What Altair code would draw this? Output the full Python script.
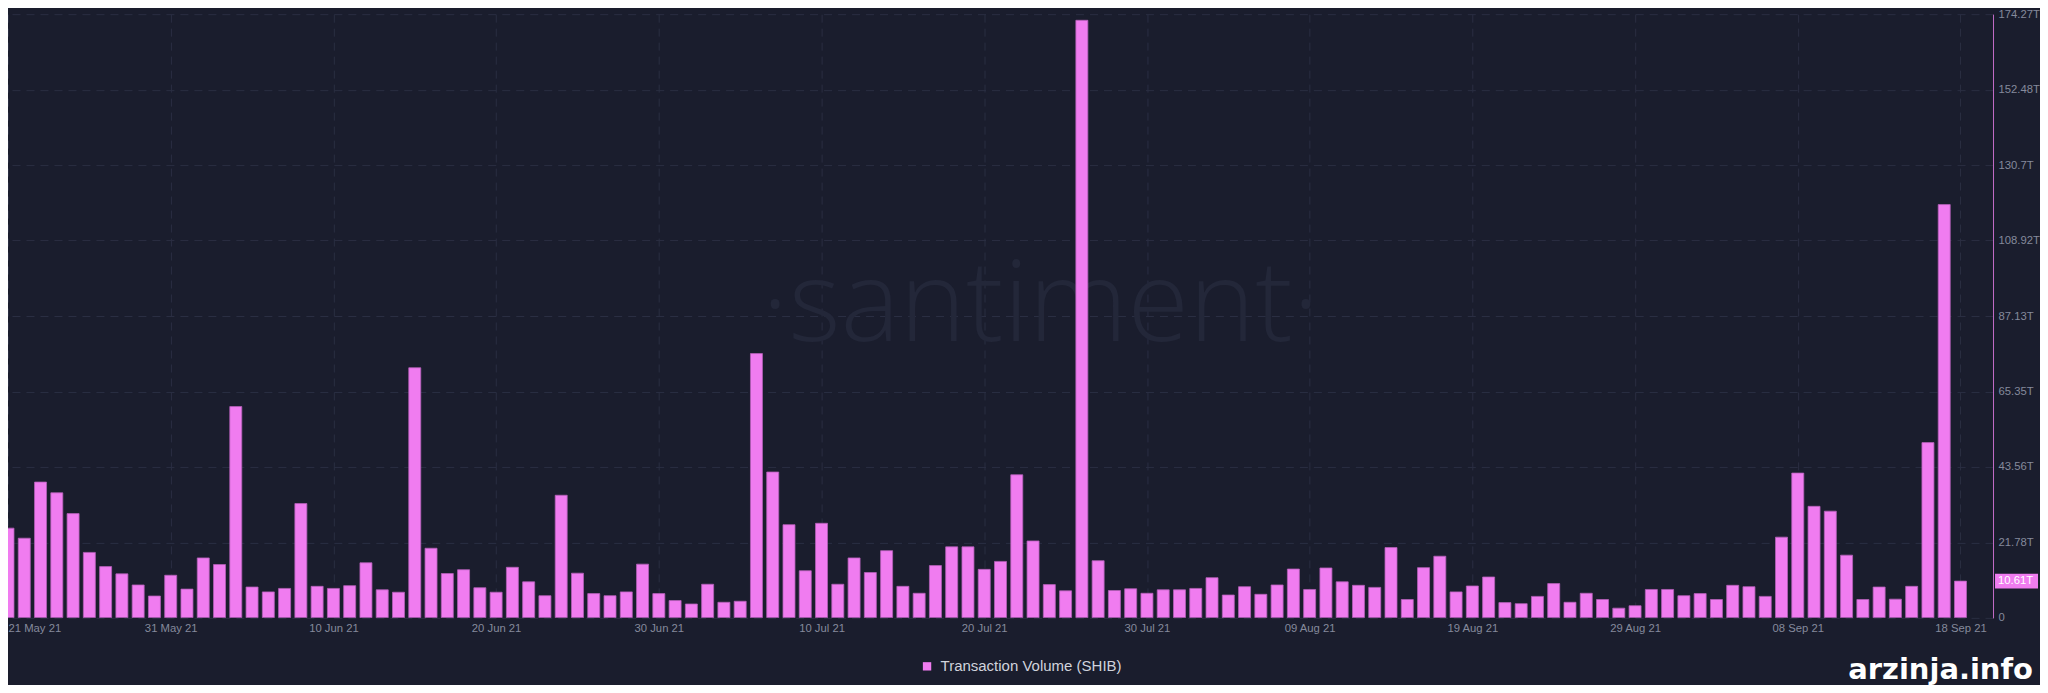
import altair as alt
import pandas as pd

# ---- data ----
series_name = "Transaction Volume (SHIB)"
start_date = "2021-05-21"
domain_start = (2021, 5, 21)
domain_end = (2021, 9, 20)

values_t = [
    25.9, 23.0, 39.2, 36.1, 30.1, 18.9, 14.8, 12.7, 9.5, 6.3,
    12.3, 8.3, 17.3, 15.4, 61.0, 8.9, 7.5, 8.5, 33.0, 9.1,
    8.5, 9.3, 15.9, 8.1, 7.4, 72.2, 20.1, 12.8, 13.9, 8.7,
    7.4, 14.6, 10.4, 6.4, 35.4, 12.9, 7.0, 6.4, 7.5, 15.5,
    7.0, 5.0, 4.0, 9.7, 4.5, 4.8, 76.3, 42.1, 26.9, 13.6,
    27.3, 9.7, 17.3, 13.1, 19.4, 9.1, 7.1, 15.1, 20.5, 20.5,
    14.0, 16.3, 41.3, 22.2, 9.6, 7.8, 172.5, 16.5, 7.9, 8.4,
    7.1, 8.1, 8.1, 8.5, 11.6, 6.6, 9.0, 6.8, 9.5, 14.1,
    8.2, 14.4, 10.4, 9.4, 8.8, 20.3, 5.3, 14.5, 17.8, 7.5,
    9.2, 11.8, 4.4, 4.1, 6.2, 9.9, 4.5, 7.1, 5.3, 2.8,
    3.5, 8.2, 8.2, 6.4, 7.0, 5.3, 9.4, 9.0, 6.2, 23.3,
    41.8, 32.2, 30.8, 18.1, 5.3, 8.9, 5.4, 9.1, 50.6, 119.3,
    10.61,
]

x_tick_dates = [
    (2021, 5, 21), (2021, 5, 31), (2021, 6, 10), (2021, 6, 20), (2021, 6, 30),
    (2021, 7, 10), (2021, 7, 20), (2021, 7, 30), (2021, 8, 9), (2021, 8, 19),
    (2021, 8, 29), (2021, 9, 8), (2021, 9, 18),
]
y_ticks = [0, 21.78, 43.56, 65.35, 87.13, 108.92, 130.7, 152.48, 174.27]
y_max = 174.27

watermark_text = ["·santiment·"]
site_text = ["arzinja.info"]

# ---- styles ----
BG = "#1a1d2d"
PINK = "#f07cf0"
PINK_STROKE = "#b45fb8"
GRID = "#2a2e42"
LABEL = "#858a9c"
W, H = 1986, 604
AXIS_FS = 11.3


def dt(t):
    return alt.DateTime(year=t[0], month=t[1], date=t[2], utc=True)


dates = pd.date_range(start_date, periods=len(values_t), freq="D")
df = pd.DataFrame({
    "date": dates.strftime("%Y-%m-%d"),
    "value": values_t,
    "series": series_name,
})

x_scale = alt.Scale(type="utc", domain=[dt(domain_start), dt(domain_end)],
                    nice=False, padding=0)
y_scale = alt.Scale(domain=[0, y_max], nice=False, zero=True, padding=0)

x_axis = alt.Axis(
    values=[dt(t) for t in x_tick_dates],
    format="%d %b %y",
    labelFlush=True,
    labelOverlap=False,
    grid=True,
    gridColor=GRID,
    gridDash=[8, 6],
    ticks=False,
    domain=False,
    labelPadding=5,
    labelColor=LABEL,
    labelFontSize=AXIS_FS,
    labelFont="Liberation Sans",
    title=None,
)
y_axis = alt.Axis(
    orient="right",
    values=y_ticks,
    labelExpr="datum.value == 0 ? '0' : format(datum.value, '.2~f') + 'T'",
    grid=True,
    gridColor=GRID,
    gridDash=[8, 6],
    ticks=False,
    domain=True,
    domainColor="#c46cc8",
    domainWidth=1,
    labelPadding=5,
    labelColor=LABEL,
    labelFontSize=AXIS_FS,
    labelFont="Liberation Sans",
    title=None,
)

base = alt.Chart(df)

watermark = alt.Chart(pd.DataFrame({"t": watermark_text})).mark_text(
    font="Open Sans", fontWeight=300, fontSize=112, color="#232739",
    align="center", baseline="alphabetic",
).encode(text="t:N", x=alt.value(1033), y=alt.value(327))

bars = base.mark_bar(size=12, clip=True, stroke=PINK_STROKE, strokeWidth=0.8).encode(
    x=alt.X("date:T", scale=x_scale, axis=x_axis),
    y=alt.Y("value:Q", scale=y_scale, axis=y_axis),
    color=alt.Color(
        "series:N",
        scale=alt.Scale(domain=[series_name], range=[PINK]),
        legend=alt.Legend(
            orient="none", legendX=912, legendY=645, title=None,
            symbolType="square", symbolSize=70, symbolStrokeWidth=0,
            labelFontSize=15, labelColor="#d0d3dc", labelFont="Liberation Sans",
            labelOffset=6, padding=0, labelLimit=0,
        ),
    ),
)

last = df.tail(1)
badge_rect = alt.Chart(last).transform_calculate(
    lo="datum.value - 2.1", hi="datum.value + 2.1"
).mark_rect(color=PINK).encode(
    x=alt.value(W + 2), x2=alt.value(W + 45),
    y=alt.Y("lo:Q", scale=y_scale), y2="hi:Q",
)
badge_text = alt.Chart(last).transform_calculate(
    lab="format(datum.value, '.2f') + 'T'"
).mark_text(
    color="white", fontSize=AXIS_FS, font="Liberation Sans", align="left", baseline="middle",
).encode(
    x=alt.value(W + 5), y=alt.Y("value:Q", scale=y_scale), text="lab:N",
)

site = alt.Chart(pd.DataFrame({"t": site_text})).mark_text(
    font="DejaVu Sans", fontWeight="bold", fontSize=29, color="white",
    align="right", baseline="middle",
).encode(text="t:N", x=alt.value(2026), y=alt.value(656))

chart = alt.layer(watermark, bars, badge_rect, badge_text, site).properties(
    width=W, height=H, padding=0, background=BG,
).configure_view(stroke=None)

chart.save("out.html", embed_options={"renderer": "svg", "actions": False})
